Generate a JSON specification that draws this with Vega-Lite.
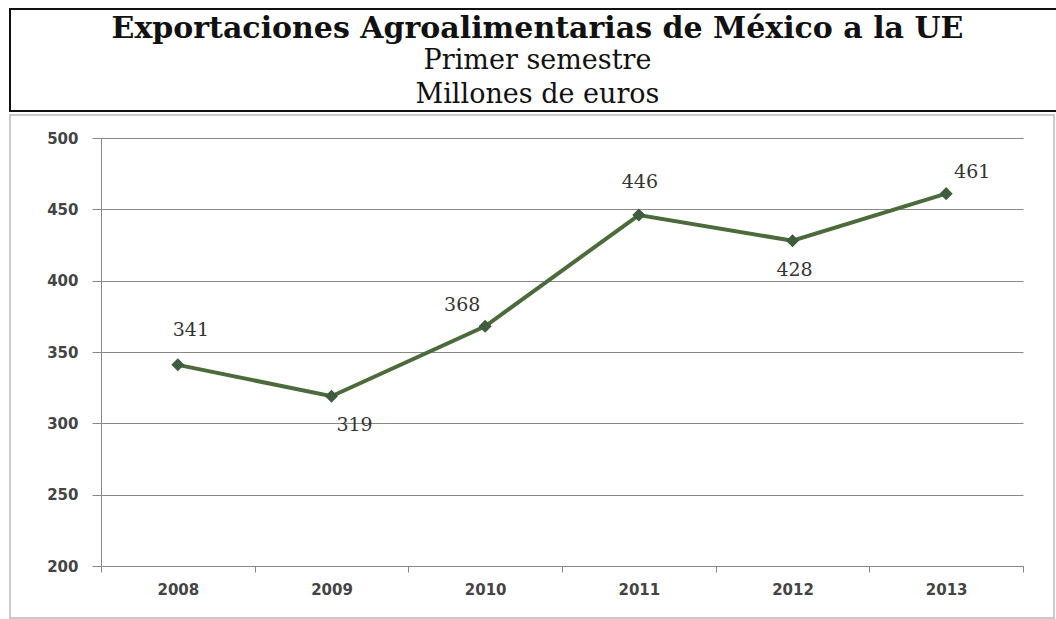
{
  "$schema": "https://vega.github.io/schema/vega-lite/v6.json",
  "padding": {"left": 9, "top": 8, "right": 0, "bottom": 0},
  "background": "white",
  "spacing": 2,
  "datasets": {
    "titulos": [
      {"linea": 1, "texto": "Exportaciones Agroalimentarias de México a la UE"},
      {"linea": 2, "texto": "Primer semestre"},
      {"linea": 3, "texto": "Millones de euros"}
    ],
    "export": [
      {"anio": "2008", "valor": 341},
      {"anio": "2009", "valor": 319},
      {"anio": "2010", "valor": 368},
      {"anio": "2011", "valor": 446},
      {"anio": "2012", "valor": 428},
      {"anio": "2013", "valor": 461}
    ]
  },
  "vconcat": [
    {
      "width": 1047,
      "height": 102,
      "view": {"stroke": "#111111", "strokeWidth": 2},
      "data": {"name": "titulos"},
      "encoding": {
        "y": {"field": "linea", "type": "ordinal", "axis": null, "scale": {"type": "point", "padding": 0.5}},
        "text": {"field": "texto"}
      },
      "layer": [
        {
          "transform": [{"filter": "datum.linea == 1"}],
          "mark": {"type": "text", "font": "DejaVu Serif", "fontWeight": "bold", "fontSize": 30, "color": "#111111", "dx": 4, "dy": 3}
        },
        {
          "transform": [{"filter": "datum.linea > 1"}],
          "mark": {"type": "text", "font": "DejaVu Serif", "fontSize": 27, "color": "#111111", "dx": 4, "dy": 1}
        }
      ]
    },
    {
      "width": 1044,
      "height": 503,
      "view": {"stroke": "#bbbbbb", "strokeWidth": 1.5},
      "data": {"name": "export"},
      "encoding": {
        "x": {
          "field": "anio", "type": "ordinal",
          "scale": {"type": "band", "paddingInner": 0, "paddingOuter": 0, "range": [91, 1013]},
          "axis": {
            "title": null, "labelAngle": 0, "tickBand": "extent", "offset": -52,
            "domainColor": "#888888", "tickColor": "#888888", "tickSize": 6,
            "labelFont": "DejaVu Sans", "labelFontWeight": "bold", "labelFontSize": 15,
            "labelColor": "#444444", "labelPadding": 10, "grid": false
          }
        },
        "y": {
          "field": "valor", "type": "quantitative",
          "scale": {"domain": [200, 500], "nice": false, "zero": false, "range": [451, 23]},
          "axis": {
            "title": null, "values": [200, 250, 300, 350, 400, 450, 500], "offset": -91,
            "grid": true, "gridColor": "#888888", "gridWidth": 1,
            "domainColor": "#888888", "tickColor": "#888888", "tickSize": 9,
            "labelFont": "DejaVu Sans", "labelFontWeight": "bold", "labelFontSize": 15,
            "labelColor": "#444444", "labelPadding": 14
          }
        }
      },
      "layer": [
        {"mark": {"type": "line", "color": "#4b6b3b", "strokeWidth": 4}},
        {"mark": {"type": "point", "shape": "diamond", "filled": true, "size": 170, "color": "#3e5c3e", "opacity": 1}},
        {
          "transform": [{"filter": "datum.anio == '2008'"}],
          "mark": {"type": "text", "font": "DejaVu Serif", "fontSize": 19, "color": "#333333", "dx": 13, "dy": -35},
          "encoding": {"text": {"field": "valor"}}
        },
        {
          "transform": [{"filter": "datum.anio == '2009'"}],
          "mark": {"type": "text", "font": "DejaVu Serif", "fontSize": 19, "color": "#333333", "dx": 23, "dy": 29},
          "encoding": {"text": {"field": "valor"}}
        },
        {
          "transform": [{"filter": "datum.anio == '2010'"}],
          "mark": {"type": "text", "font": "DejaVu Serif", "fontSize": 19, "color": "#333333", "dx": -23, "dy": -21},
          "encoding": {"text": {"field": "valor"}}
        },
        {
          "transform": [{"filter": "datum.anio == '2011'"}],
          "mark": {"type": "text", "font": "DejaVu Serif", "fontSize": 19, "color": "#333333", "dx": 1, "dy": -33},
          "encoding": {"text": {"field": "valor"}}
        },
        {
          "transform": [{"filter": "datum.anio == '2012'"}],
          "mark": {"type": "text", "font": "DejaVu Serif", "fontSize": 19, "color": "#333333", "dx": 2, "dy": 29},
          "encoding": {"text": {"field": "valor"}}
        },
        {
          "transform": [{"filter": "datum.anio == '2013'"}],
          "mark": {"type": "text", "font": "DejaVu Serif", "fontSize": 19, "color": "#333333", "dx": 26, "dy": -22},
          "encoding": {"text": {"field": "valor"}}
        }
      ]
    }
  ]
}
